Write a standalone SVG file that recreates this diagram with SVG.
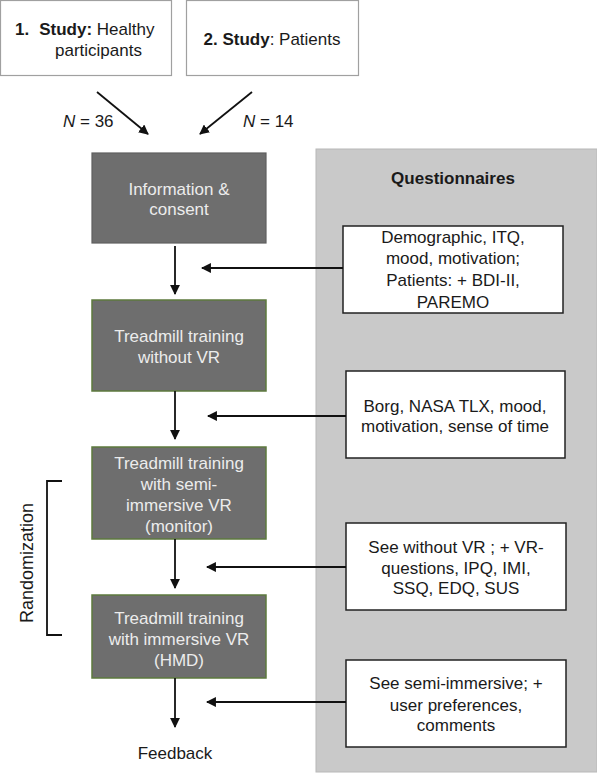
<svg xmlns="http://www.w3.org/2000/svg" width="597" height="773" viewBox="0 0 597 773">
<style>
text{font-family:"Liberation Sans",Arial,sans-serif;font-size:17px;fill:#1a1a1a}
.c{text-anchor:middle}
.w{fill:#ececec}
.b{font-weight:bold}
.study{fill:#fff;stroke:#a0a0a0;stroke-width:1.2}
.flow{fill:#6e6e6e;stroke:#5f5f5f;stroke-width:1.2}
.flowg{fill:#6e6e6e;stroke:#5d7a3e;stroke-width:1.5}
.q{fill:#fff;stroke:#222;stroke-width:1.5}
.ln{stroke:#111;stroke-width:1.8;fill:none}
</style>
<defs>
<marker id="ah" viewBox="0 0 10 10" refX="9" refY="5" markerWidth="5.5" markerHeight="5.5" orient="auto" markerUnits="strokeWidth">
<path d="M0,0 L10,5 L0,10 z" fill="#111"/>
</marker>
</defs>
<rect id="panel" x="316" y="149" width="281" height="623" fill="#c9c9c9" stroke="#b8b8b8" stroke-width="1"/>
<text class="c b" x="453" y="184">Questionnaires</text>

<g id="study1"><rect class="study" x="0.5" y="0.5" width="171" height="75"/>
<text x="15" y="35"><tspan class="b">1.</tspan><tspan class="b" dx="10">Study:</tspan> Healthy</text>
<text x="55" y="56">participants</text></g>
<g id="study2"><rect class="study" x="186.5" y="0.5" width="172" height="75"/>
<text class="c" x="272" y="45"><tspan class="b">2. Study</tspan>: Patients</text></g>

<g id="n1"><rect class="flow" x="92" y="153" width="174" height="90"/>
<text class="c w" x="179" y="195">Information &amp;</text><text class="c w" x="179" y="215">consent</text></g>
<g id="n2"><rect class="flowg" x="92" y="300" width="174" height="91"/>
<text class="c w" x="179" y="342">Treadmill training</text><text class="c w" x="179" y="363">without VR</text></g>
<g id="n3"><rect class="flowg" x="92" y="447" width="174" height="92"/>
<text class="c w" x="179" y="469">Treadmill training</text><text class="c w" x="179" y="490">with semi-</text><text class="c w" x="179" y="511">immersive VR</text><text class="c w" x="179" y="532">(monitor)</text></g>
<g id="n4"><rect class="flowg" x="92" y="595" width="174" height="83"/>
<text class="c w" x="179" y="624">Treadmill training</text><text class="c w" x="179" y="645">with immersive VR</text><text class="c w" x="179" y="666">(HMD)</text></g>
<g id="feedback"><text class="c" x="175" y="759">Feedback</text></g>

<g id="q1"><rect class="q" x="343" y="226" width="220" height="87"/>
<text class="c" x="453" y="243">Demographic, ITQ,</text><text class="c" x="453" y="264">mood, motivation;</text><text class="c" x="453" y="286">Patients: + BDI-II,</text><text class="c" x="453" y="308">PAREMO</text></g>
<g id="q2"><rect class="q" x="346" y="371" width="219" height="87"/>
<text class="c" x="455" y="412">Borg, NASA TLX, mood,</text><text class="c" x="455" y="432">motivation, sense of time</text></g>
<g id="q3"><rect class="q" x="346" y="523" width="220" height="87"/>
<text class="c" x="456" y="553">See without VR ; + VR-</text><text class="c" x="456" y="574">questions, IPQ, IMI,</text><text class="c" x="456" y="594">SSQ, EDQ, SUS</text></g>
<g id="q4"><rect class="q" x="346" y="660" width="220" height="87"/>
<text class="c" x="456" y="689">See semi-immersive; +</text><text class="c" x="456" y="711">user preferences,</text><text class="c" x="456" y="731">comments</text></g>

<g id="randomization">
<path class="ln" d="M62,481 H47 V635 H62" stroke-width="1.6"/>
<text class="c" transform="translate(33,563) rotate(-90)" style="font-size:18px">Randomization</text>
</g>

<g id="connectors">
<line class="ln" x1="97" y1="92" x2="148" y2="134" marker-end="url(#ah)"/>
<line class="ln" x1="252" y1="92" x2="200" y2="134" marker-end="url(#ah)"/>
<line class="ln" x1="175" y1="246" x2="175" y2="294" marker-end="url(#ah)"/>
<line class="ln" x1="175" y1="391" x2="175" y2="439" marker-end="url(#ah)"/>
<line class="ln" x1="175" y1="539" x2="175" y2="588" marker-end="url(#ah)"/>
<line class="ln" x1="175" y1="678" x2="175" y2="727" marker-end="url(#ah)"/>
<line class="ln" x1="343" y1="268" x2="202" y2="268" marker-end="url(#ah)"/>
<line class="ln" x1="346" y1="416" x2="208" y2="416" marker-end="url(#ah)"/>
<line class="ln" x1="346" y1="567" x2="207" y2="567" marker-end="url(#ah)"/>
<line class="ln" x1="346" y1="702" x2="207" y2="702" marker-end="url(#ah)"/>
</g>
<text x="63" y="127"><tspan font-style="italic">N</tspan> = 36</text>
<text x="243" y="127"><tspan font-style="italic">N</tspan> = 14</text>
</svg>
